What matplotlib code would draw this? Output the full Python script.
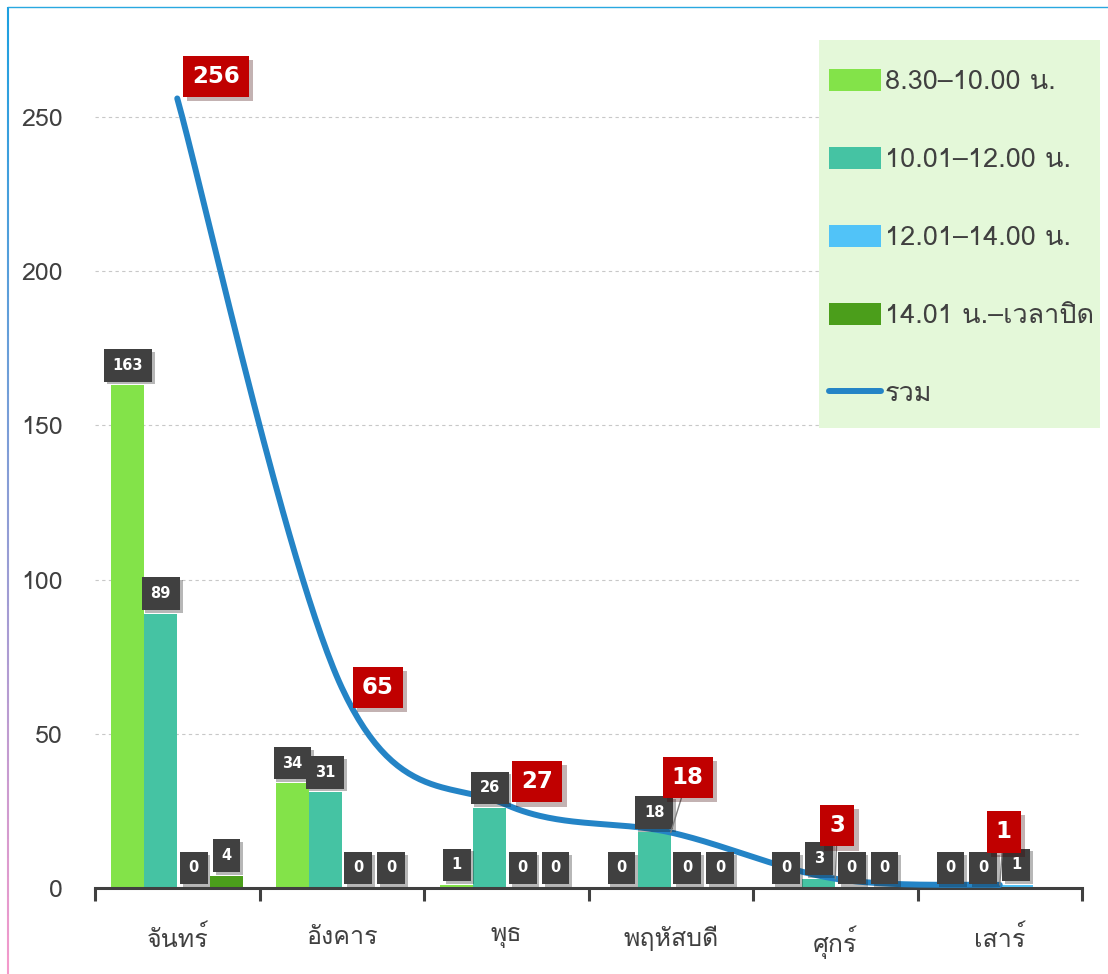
import numpy as np
import matplotlib
matplotlib.use("Agg")
import matplotlib.pyplot as plt
import matplotlib.patheffects as pe
from matplotlib import font_manager
from matplotlib.ft2font import FT2Font
from matplotlib.collections import LineCollection
from matplotlib.patches import Rectangle

# ข้อมูลจำนวนผู้ใช้บริการแยกตามวันและช่วงเวลา
days = ["จันทร์", "อังคาร", "พุธ", "พฤหัสบดี", "ศุกร์", "เสาร์"]
series_names = ["8.30–10.00 น.", "10.01–12.00 น.", "12.01–14.00 น.", "14.01 น.–เวลาปิด"]
s_0830 = [163, 34, 1, 0, 0, 0]
s_1001 = [89, 31, 26, 18, 3, 0]
s_1201 = [0, 0, 0, 0, 0, 1]
s_1401 = [4, 0, 0, 0, 0, None]
totals = [256, 65, 27, 18, 3, 1]
total_name = "รวม"

colors = ["#83E349", "#45C3A3", "#51C3F8", "#4B9E1B"]
line_color = "#2484C6"


def find_thai_font():
    # หาฟอนต์ในเครื่องที่มีอักษรไทย
    for path in sorted(font_manager.findSystemFonts()):
        try:
            cmap = FT2Font(path).get_charmap()
        except Exception:
            continue
        if all(ord(c) in cmap for c in "จันทร์พฤหัสบดีเวลาปิด"):
            return path
    return None


thai_path = find_thai_font()
families = ["DejaVu Sans"]
if thai_path:
    font_manager.fontManager.addfont(thai_path)
    families = [font_manager.FontProperties(fname=thai_path).get_name(), "DejaVu Sans"]
plt.rcParams["font.family"] = families


def catmull_rom(xs, ys, n=60):
    # เส้นโค้งเรียบผ่านทุกจุด (แบบ smoothed line)
    px = np.concatenate([[xs[0]], xs, [xs[-1]]]).astype(float)
    py = np.concatenate([[ys[0]], ys, [ys[-1]]]).astype(float)
    t = np.linspace(0, 1, n)
    out_x, out_y = [], []
    for i in range(1, len(px) - 2):
        for p, out in ((px, out_x), (py, out_y)):
            p0, p1, p2, p3 = p[i - 1], p[i], p[i + 1], p[i + 2]
            out.extend(0.5 * (2 * p1 + (-p0 + p2) * t
                              + (2 * p0 - 5 * p1 + 4 * p2 - p3) * t ** 2
                              + (-p0 + 3 * p1 - 3 * p2 + p3) * t ** 3))
    return np.array(out_x), np.array(out_y)


W, H = 1108, 974
fig = plt.figure(figsize=(W / 100, H / 100), dpi=100)
ax = fig.add_axes([95 / W, 86 / H, 987 / W, 879 / H])

x = np.arange(len(days))
w = 0.2
all_series = [s_0830, s_1001, s_1201, s_1401]
handles = []
for k, (vals, name, col) in enumerate(zip(all_series, series_names, colors)):
    heights = [v if v is not None else 0 for v in vals]
    xpos = x + (k - 1.5) * w
    bars = ax.bar(xpos, heights, width=w, color=col, label=name, zorder=2)
    handles.append(bars)
    for xi, v in zip(xpos, vals):
        if v is None:
            continue
        ann = ax.annotate(str(v), xy=(xi, v), xytext=(0, 20), textcoords="offset pixels",
                          ha="center", va="center", fontsize=10.5, fontweight="bold",
                          color="white", family=["DejaVu Sans"], zorder=5,
                          bbox=dict(boxstyle="square,pad=0.6", fc="#404040", ec="none"))
        ann.get_bbox_patch().set_path_effects([pe.SimplePatchShadow(offset=(2, -2), alpha=0.3), pe.Normal()])

lx, ly = catmull_rom(x, totals)
line, = ax.plot(lx, ly, color=line_color, lw=4.3, solid_capstyle="round", label=total_name, zorder=4)
handles.append(line)

# ตำแหน่งป้ายยอดรวม (พิกเซล) และเส้นชี้
red_offsets = [(39, 22), (36, 0), (31, 23), (17, 55), (2, 53), (4, 53)]
red_leader = [False, False, False, True, True, True]
for xi, v, off, lead in zip(x, totals, red_offsets, red_leader):
    arrow = dict(arrowstyle="-", color="#808080", lw=1, shrinkA=0, shrinkB=0) if lead else None
    ann = ax.annotate(str(v), xy=(xi, v), xytext=off, textcoords="offset pixels",
                      ha="center", va="center", fontsize=16.5, fontweight="bold",
                      color="white", family=["DejaVu Sans"], zorder=6, arrowprops=arrow,
                      bbox=dict(boxstyle="square,pad=0.4", fc="#C00000", ec="none"))
    ann.get_bbox_patch().set_path_effects([pe.SimplePatchShadow(offset=(3, -3), alpha=0.3), pe.Normal()])

ax.set_xlim(-0.5, len(days) - 0.5)
ax.set_ylim(0, 285)
ax.set_yticks([0, 50, 100, 150, 200, 250])
ax.set_xticks(x)
ax.set_xticklabels(days)
ax.set_xticks(np.arange(-0.5, len(days), 1.0), minor=True)
ax.tick_params(axis="x", which="major", length=0, pad=27, labelsize=18, labelcolor="#404040")
ax.tick_params(axis="x", which="minor", length=9, width=2.2, color="#404040", direction="out")
ax.tick_params(axis="y", length=0, pad=23, labelsize=18, labelcolor="#404040")
for side in ("left", "right", "top"):
    ax.spines[side].set_visible(False)
ax.spines["bottom"].set_color("#404040")
ax.spines["bottom"].set_linewidth(2.2)
ax.spines["bottom"].set_zorder(3)
ax.grid(axis="y", color="#C8C8C8", linestyle=(0, (3, 3)), lw=0.8)
ax.set_axisbelow(True)

# พื้นหลังคำอธิบายสัญลักษณ์
fig.add_artist(Rectangle((819 / W, 1 - 428 / H), 281 / W, 388 / H, transform=fig.transFigure,
                         fc="#E4F8D9", ec="none", zorder=1))
leg = fig.legend(handles, series_names + [total_name], loc="upper left",
                 bbox_to_anchor=(829 / W, 1 - 69 / H), fontsize=19.5, frameon=False,
                 handlelength=1.92, handleheight=0.85, handletextpad=0.15,
                 labelspacing=1.95, borderpad=0, borderaxespad=0)
leg.set_zorder(5)
for txt in leg.get_texts():
    txt.set_color("#404040")

# กรอบด้านซ้ายและด้านบน
n_seg = 50
ys = np.linspace(0.993, 0.0, n_seg + 1)
segs = [[(8 / W, ys[i]), (8 / W, ys[i + 1])] for i in range(n_seg)]
c_top = np.array(matplotlib.colors.to_rgb("#1EA0E0"))
c_bot = np.array(matplotlib.colors.to_rgb("#F79ACB"))
seg_cols = [c_top + (c_bot - c_top) * i / n_seg for i in range(n_seg)]
fig.add_artist(LineCollection(segs, colors=seg_cols, linewidths=1.5, transform=fig.transFigure))
fig.add_artist(plt.Line2D([8 / W, 1.0], [0.993, 0.993], color="#29A8E0", lw=1.0, transform=fig.transFigure))

fig.savefig("out.png", dpi=100)
